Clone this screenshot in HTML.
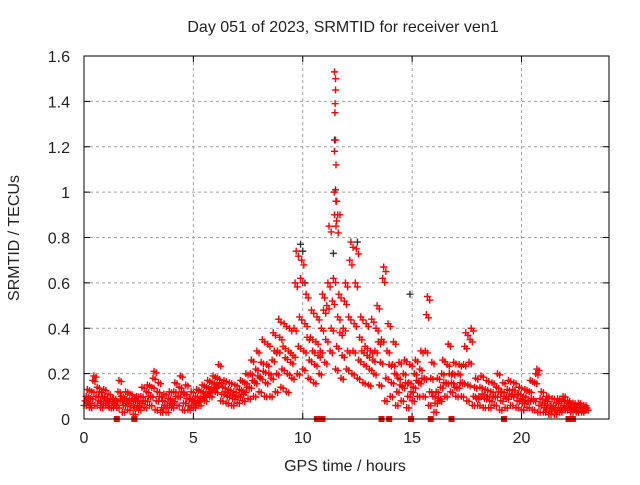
<!DOCTYPE html>
<html><head><meta charset="utf-8"><style>
body{margin:0;background:#fff;}
svg text{font-family:"Liberation Sans",sans-serif;font-size:16px;fill:#222;}
</style></head><body>
<svg id="chart" width="640" height="480" xmlns="http://www.w3.org/2000/svg">
<text x="343" y="32" text-anchor="middle">Day 051 of 2023, SRMTID for receiver ven1</text>
<text x="345" y="471" text-anchor="middle">GPS time / hours</text>
<text transform="translate(19,238) rotate(-90)" text-anchor="middle">SRMTID / TECUs</text>
<g id="grid"></g>
<g id="axes"></g>
<g id="black-series"></g>
<g id="red-series"></g>
<rect x="84" y="56" width="525" height="363" fill="none" stroke="#000" stroke-width="1"/>
</svg>
<script>
const xTicks=[0,5,10,15,20];
const yTicks=[0,0.2,0.4,0.6,0.8,1,1.2,1.4,1.6];
const yTickLabels=["0","0.2","0.4","0.6","0.8","1","1.2","1.4","1.6"];
const stepHours=0.25;
const redVals=[
[0.06,0.08,0.1,0.13,0.07],[0.05,0.09,0.12,0.17,0.19],[0.06,0.1,0.14,0.08,0.12],[0.05,0.07,0.1,0.13,0.09],
[0.06,0.08,0.11,0.05,0.09],[0.05,0.07,0.09,0.06,0.08],[0.05,0.12,0.17,0.08,0.1],[0.03,0.06,0.09,0.12,0.07],
[0.04,0.08,0.11,0.06,0.09],[0.02,0.05,0.08,0.1,0.06],[0.04,0.07,0.1,0.14,0.08],[0.05,0.08,0.12,0.15,0.1],
[0.06,0.1,0.14,0.18,0.21],[0.04,0.08,0.12,0.16,0.1],[0.03,0.05,0.08,0.11,0.06],[0.03,0.06,0.09,0.12,0.07],
[0.05,0.08,0.12,0.16,0.1],[0.06,0.1,0.14,0.19,0.12],[0.04,0.07,0.11,0.15,0.09],[0.04,0.06,0.09,0.12,0.08],
[0.05,0.07,0.1,0.13,0.08],[0.06,0.09,0.12,0.15,0.1],[0.08,0.11,0.14,0.17,0.12],[0.1,0.13,0.16,0.19,0.14],
[0.12,0.15,0.18,0.24,0.16],[0.08,0.11,0.14,0.17,0.12],[0.07,0.1,0.13,0.16,0.11],[0.06,0.09,0.12,0.15,0.1],
[0.07,0.1,0.13,0.17,0.11],[0.08,0.12,0.16,0.2,0.14],[0.09,0.14,0.2,0.26,0.17],[0.1,0.16,0.22,0.3,0.19],
[0.12,0.18,0.25,0.35,0.21],[0.1,0.16,0.24,0.33,0.2],[0.1,0.18,0.26,0.38,0.3],[0.12,0.2,0.3,0.44,0.36],
[0.14,0.22,0.32,0.42,0.27],[0.12,0.2,0.3,0.4,0.25],[0.18,0.28,0.4,0.6,0.74],[0.2,0.32,0.45,0.62,0.7],
[0.22,0.3,0.42,0.55,0.36],[0.18,0.26,0.36,0.48,0.3],[0.16,0.24,0.34,0.45,0.28],[0.2,0.3,0.4,0.55,0.48],
[0.25,0.35,0.5,0.6,0.85],[0.3,0.4,0.52,0.62,0.9],[0.22,0.32,0.45,0.55,0.38],[0.18,0.28,0.4,0.52,0.6],
[0.22,0.3,0.45,0.7,0.78],[0.2,0.3,0.42,0.6,0.75],[0.18,0.26,0.36,0.45,0.3],[0.16,0.24,0.32,0.42,0.28],
[0.15,0.22,0.3,0.44,0.26],[0.2,0.3,0.4,0.5,0.34],[0.15,0.25,0.35,0.62,0.67],[0.08,0.18,0.3,0.42,0.24],
[0.1,0.16,0.24,0.34,0.2],[0.06,0.12,0.18,0.25,0.15],[0.08,0.14,0.2,0.26,0.16],[0.05,0.1,0.16,0.24,0.12],
[0.08,0.14,0.2,0.26,0.17],[0.1,0.16,0.22,0.3,0.18],[0.1,0.18,0.3,0.46,0.54],[0.06,0.12,0.18,0.25,0.1],
[0.03,0.07,0.12,0.18,0.09],[0.08,0.14,0.2,0.26,0.16],[0.1,0.16,0.24,0.33,0.2],[0.12,0.16,0.2,0.25,0.14],
[0.1,0.14,0.2,0.24,0.16],[0.1,0.16,0.24,0.32,0.38],[0.08,0.15,0.25,0.35,0.4],[0.06,0.1,0.14,0.18,0.09],
[0.06,0.1,0.14,0.19,0.11],[0.05,0.09,0.13,0.17,0.1],[0.05,0.08,0.12,0.16,0.1],[0.06,0.1,0.14,0.2,0.12],
[0.04,0.08,0.12,0.16,0.1],[0.05,0.09,0.13,0.17,0.11],[0.06,0.1,0.13,0.16,0.11],[0.05,0.08,0.11,0.14,0.09],
[0.04,0.07,0.1,0.13,0.08],[0.05,0.08,0.12,0.17,0.09],[0.04,0.08,0.16,0.2,0.22],[0.03,0.06,0.09,0.12,0.07],
[0.03,0.05,0.08,0.1,0.06],[0.02,0.04,0.06,0.09,0.05],[0.02,0.04,0.07,0.09,0.05],[0.03,0.05,0.08,0.1,0.06],
[0.04,0.06,0.08,0.07,0.05],[0.03,0.05,0.07,0.06,0.04],[0.03,0.05,0.07,0.06,0.04],[0.03,0.04,0.06,0.05,0.04]
];
const peakTimes=[11.45,11.5,11.5,11.48,11.47,11.5,11.45,11.52,11.44,11.55,11.6,11.52,11.7,11.62];
const peakVals=[1.53,1.5,1.45,1.39,1.35,1.23,1.18,1.12,1.0,0.96,0.9,0.85,0.9,0.82];
const blackTimes=[9.9,10.0,11.45,11.5,11.52,12.5,14.9,10.1,11.4];
const blackVals=[0.77,0.74,1.23,1.01,0.96,0.78,0.55,0.6,0.73];
const zeroTimes=[1.5,2.3,10.65,10.8,10.9,13.6,13.95,14.95,15.85,16.8,19.2,22.15,22.35];
const NS="http://www.w3.org/2000/svg";
const X0=84,X1=609,Y0=419,Y1=56;
const xs=t=>X0+t/24*(X1-X0);
const ys=v=>Y0-v/1.6*(Y0-Y1);
const grid=document.getElementById('grid'),axes=document.getElementById('axes');
function mk(tag,attrs,parent){const e=document.createElementNS(NS,tag);for(const k in attrs)e.setAttribute(k,attrs[k]);parent.appendChild(e);return e;}
xTicks.forEach(t=>{
  const x=xs(t);
  if(t>0){const g=mk('line',{x1:x,x2:x,y1:Y1,y2:Y0,stroke:'#a0a0a0','stroke-dasharray':'3,3'},grid);
  
  }
  const tk=mk('line',{x1:x,x2:x,y1:Y0,y2:Y0-6,stroke:'#000'},axes);
  
  
  const tk2=mk('line',{x1:x,x2:x,y1:Y1,y2:Y1+6,stroke:'#000'},axes);
  
  
  const lb=mk('text',{x:x,y:Y0+24,'text-anchor':'middle'},axes);lb.textContent=t;
  
  
});
yTicks.forEach((v,i)=>{
  const y=ys(v);
  if(v>0&&v<1.6){const g=mk('line',{x1:X0,x2:X1,y1:y,y2:y,stroke:'#a0a0a0','stroke-dasharray':'3,3'},grid);
  
  }
  const tk=mk('line',{x1:X0,x2:X0+6,y1:y,y2:y,stroke:'#000'},axes);
  
  
  const tk2=mk('line',{x1:X1,x2:X1-6,y1:y,y2:y,stroke:'#000'},axes);
  
  
  const lb=mk('text',{x:X0-14,y:y+6,'text-anchor':'end'},axes);lb.textContent=yTickLabels[i];
  
  
});
function plus(g,t,v,color,name){
  const x=xs(t),y=ys(v);
  const p=mk('path',{d:`M${x-3.5},${y}h7M${x},${y-3.5}v7`,stroke:color,'stroke-width':1.4,fill:'none'},g);
  
  
}
const bg=document.getElementById('black-series'),rg=document.getElementById('red-series');
blackTimes.forEach((t,i)=>plus(bg,t,blackVals[i],'#333','black-point'));
redVals.forEach((arr,i)=>arr.forEach((v,j)=>{
  plus(rg,i*stepHours+j*0.05,v,'#f00','red-point');
  plus(rg,i*stepHours+j*0.05+0.1,v*0.97,'#f00','red-point');
}));
peakTimes.forEach((t,i)=>plus(rg,t,peakVals[i],'#f00','red-peak-point'));
zeroTimes.forEach(t=>{
  const r=mk('rect',{x:xs(t)-3,y:Y0-3,width:6,height:6,fill:'#f00'},rg);
  
  
});
</script>
</body></html>
